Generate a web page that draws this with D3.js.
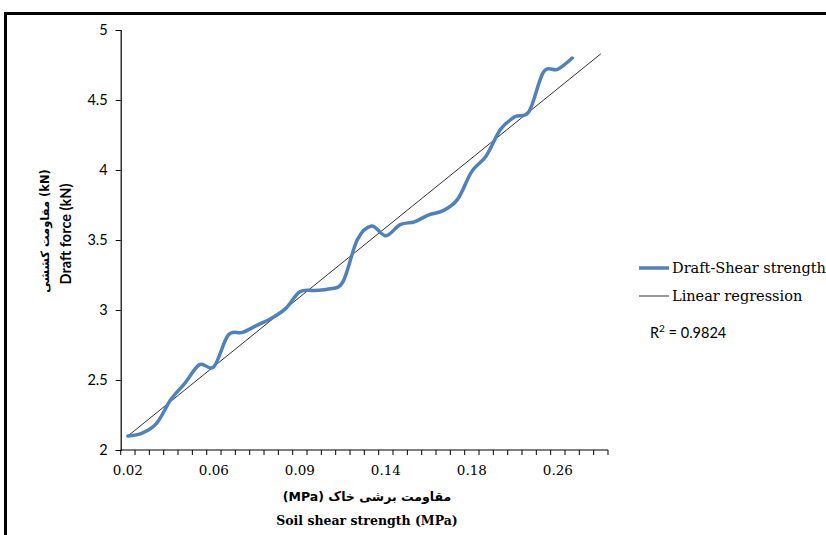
<!DOCTYPE html>
<html>
<head>
<meta charset="utf-8">
<script src="https://cdn.jsdelivr.net/npm/d3@7/dist/d3.min.js"></script>
<style>
  html, body { margin: 0; padding: 0; background: #fff; }
  svg { display: block; }
</style>
</head>
<body>
<svg id="chart" width="826" height="535"></svg>
<script>
// Category positions along the x axis (34 measurement steps)
const categoryCount = 34;
const categories = d3.range(categoryCount);

// Draft force (kN) measured at each step
const draftForce = [
  2.10, 2.12, 2.19, 2.36, 2.48, 2.61, 2.595, 2.82, 2.84, 2.89,
  2.94, 3.01, 3.13, 3.14, 3.15, 3.20, 3.50, 3.60, 3.53, 3.61,
  3.63, 3.68, 3.71, 3.79, 3.99, 4.10, 4.29, 4.38, 4.42, 4.70,
  4.72, 4.80
];

// Linear regression end points (first and last category)
const regressionEnds = [
  { cat: 0, value: 2.10 },
  { cat: 33, value: 4.83 }
];

// Labelled categories on the x axis
const xTickCats = [0, 6, 12, 18, 24, 30];
const xTickLabels = ["0.02", "0.06", "0.09", "0.14", "0.18", "0.26"];

// y axis ticks
const yTicks = [2, 2.5, 3, 3.5, 4, 4.5, 5];
const yTickLabels = ["2", "2.5", "3", "3.5", "4", "4.5", "5"];

const legendItems = ["Draft-Shear strength", "Linear regression"];
const r2Text = "0.9824";

const svg = d3.select("#chart");

// outer frame
svg.append("rect")
  .attr("x", 5.5).attr("y", 13.5)
  .attr("width", 840).attr("height", 540)
  .attr("fill", "none").attr("stroke", "#000").attr("stroke-width", 3);

const plot = { left: 120.7, right: 608, top: 30, bottom: 450 };

const x = d3.scaleBand()
  .domain(categories)
  .range([plot.left, plot.right])
  .padding(0);

const y = d3.scaleLinear()
  .domain([2, 5])
  .range([plot.bottom, plot.top]);

const cx = c => x(c) + x.bandwidth() / 2;

// y axis
const yAxis = d3.axisLeft(y)
  .tickValues(yTicks)
  .tickFormat((d, i) => yTickLabels[i])
  .tickSize(5)
  .tickPadding(8);

const gy = svg.append("g")
  .attr("transform", `translate(${plot.left},0)`)
  .call(yAxis);
gy.select(".domain").attr("stroke", "#000").attr("stroke-width", 1.2);
gy.selectAll(".tick line").attr("stroke", "#000");
gy.selectAll(".tick text")
  .attr("font-family", "Lato, 'Open Sans', sans-serif")
  .attr("font-size", 14.5)
  .attr("fill", "#000");

// x axis: a tick at every category boundary, labels centred on categories
const boundaries = categories.map(c => x(c)).concat([plot.right]);
const gx = svg.append("g");
gx.append("line")
  .attr("x1", plot.left).attr("x2", plot.right)
  .attr("y1", plot.bottom).attr("y2", plot.bottom)
  .attr("stroke", "#000").attr("stroke-width", 1.2);
gx.selectAll("line.tick")
  .data(boundaries)
  .join("line")
  .attr("class", "tick")
  .attr("x1", d => d).attr("x2", d => d)
  .attr("y1", plot.bottom).attr("y2", plot.bottom + 5)
  .attr("stroke", "#000");
gx.selectAll("text.lbl")
  .data(xTickCats)
  .join("text")
  .attr("class", "lbl")
  .attr("x", d => cx(d))
  .attr("y", plot.bottom + 25)
  .attr("text-anchor", "middle")
  .attr("font-family", "'DejaVu Serif', serif")
  .attr("font-size", 13.5)
  .attr("fill", "#000")
  .text((d, i) => xTickLabels[i]);

// regression line
svg.append("path")
  .datum(regressionEnds)
  .attr("fill", "none")
  .attr("stroke", "#333")
  .attr("stroke-width", 1)
  .attr("d", d3.line().x(d => cx(d.cat)).y(d => y(d.value)));

// measured series, smoothed
svg.append("path")
  .datum(draftForce)
  .attr("fill", "none")
  .attr("stroke", "#4F81BD")
  .attr("stroke-width", 3.5)
  .attr("stroke-linejoin", "round")
  .attr("stroke-linecap", "round")
  .attr("d", d3.line()
    .x((d, i) => cx(categories[i]))
    .y(d => y(d))
    .curve(d3.curveCardinal.tension(0)));

// axis titles
svg.append("text")
  .attr("x", 367).attr("y", 501)
  .attr("text-anchor", "middle")
  .attr("font-family", "'DejaVu Sans', sans-serif")
  .attr("font-weight", "bold")
  .attr("font-size", 12.5)
  .attr("direction", "rtl")
  .text("مقاومت برشی خاک (MPa)");

svg.append("text")
  .attr("x", 367).attr("y", 525)
  .attr("text-anchor", "middle")
  .attr("font-family", "'DejaVu Serif', serif")
  .attr("font-weight", "bold")
  .attr("font-size", 12.5)
  .text("Soil shear strength (MPa)");

svg.append("text")
  .attr("transform", "translate(49,231) rotate(-90)")
  .attr("text-anchor", "middle")
  .attr("font-family", "'DejaVu Sans', sans-serif")
  .attr("font-weight", "bold")
  .attr("font-size", 11.5)
  .attr("direction", "ltr")
  .attr("unicode-bidi", "embed")
  .text("مقاومت کششی  (kN)");

svg.append("text")
  .attr("transform", "translate(71,234) rotate(-90)")
  .attr("text-anchor", "middle")
  .attr("font-family", "Lato, 'Open Sans', sans-serif")
  .attr("font-weight", "bold")
  .attr("font-size", 14.5)
  .text("Draft force (kN)");

// legend
const legend = svg.append("g");
const legendStyles = [
  { stroke: "#4F81BD", width: 3.5 },
  { stroke: "#333", width: 1 }
];
legendItems.forEach((name, i) => {
  const ly = 268 + i * 28;
  legend.append("line")
    .attr("x1", 639).attr("x2", 669)
    .attr("y1", ly).attr("y2", ly)
    .attr("stroke", legendStyles[i].stroke)
    .attr("stroke-width", legendStyles[i].width);
  legend.append("text")
    .attr("x", 672).attr("y", ly + 5)
    .attr("font-family", "'DejaVu Serif', serif")
    .attr("font-size", 14.5)
    .attr("fill", "#000")
    .text(name);
});

const r2 = legend.append("text")
  .attr("x", 650).attr("y", 338)
  .attr("font-family", "Lato, 'Open Sans', sans-serif")
  .attr("font-size", 14.5)
  .attr("fill", "#000");
r2.append("tspan").text("R");
r2.append("tspan").attr("dy", -6).attr("font-size", 10).text("2");
r2.append("tspan").attr("dy", 6).text(" = " + r2Text);
</script>
</body>
</html>
